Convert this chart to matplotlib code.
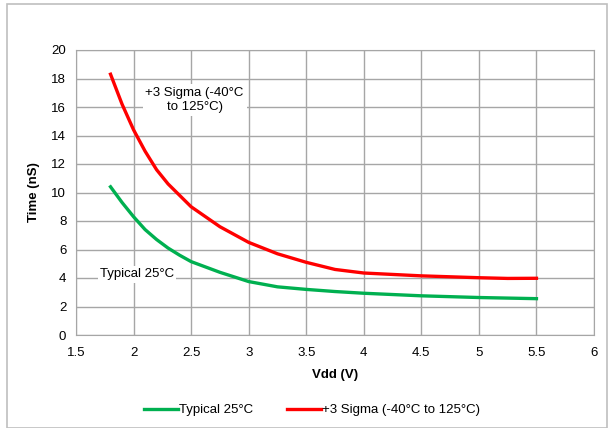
import matplotlib.pyplot as plt
from matplotlib.patches import Rectangle

plt.rcParams['font.family'] = ['Liberation Sans', 'DejaVu Sans']

vdd_typ = [1.8, 1.9, 2.0, 2.1, 2.2, 2.3, 2.4, 2.5, 2.75, 3.0, 3.25, 3.5, 3.75, 4.0, 4.5, 5.0, 5.5]
time_typ = [10.4, 9.3, 8.3, 7.4, 6.7, 6.1, 5.6, 5.15, 4.4, 3.75, 3.38, 3.2, 3.05, 2.93, 2.75, 2.63, 2.55]

vdd_sig = [1.8, 1.9, 2.0, 2.1, 2.2, 2.3, 2.4, 2.5, 2.75, 3.0, 3.25, 3.5, 3.75, 4.0, 4.5, 5.0, 5.25, 5.5]
time_sig = [18.3, 16.2, 14.4, 12.9, 11.6, 10.6, 9.8, 9.0, 7.6, 6.5, 5.7, 5.1, 4.6, 4.35, 4.15, 4.02, 3.97, 3.98]

fig = plt.figure(figsize=(6.1, 4.28), dpi=100)
ax = fig.add_axes([76/610, 1 - 335/428, (594-76)/610, (335-50)/428])

ax.plot(vdd_typ, time_typ, color='#00B050', lw=2.4, label='Typical 25°C',
        solid_joinstyle='round')
ax.plot(vdd_sig, time_sig, color='#FF0000', lw=2.4, label='+3 Sigma (-40°C to 125°C)',
        solid_joinstyle='round')

ax.set_xlim(1.5, 6)
ax.set_ylim(0, 20)
ax.set_xticks([1.5, 2, 2.5, 3, 3.5, 4, 4.5, 5, 5.5, 6])
ax.set_xticklabels(['1.5', '2', '2.5', '3', '3.5', '4', '4.5', '5', '5.5', '6'])
ax.set_yticks(range(0, 21, 2))
ax.grid(True, color='#a6a6a6', lw=1)
ax.set_axisbelow(True)
for s in ax.spines.values():
    s.set_color('#a6a6a6')
ax.tick_params(length=0, labelsize=9.5)
ax.tick_params(axis='x', pad=9)
ax.tick_params(axis='y', pad=7)
ax.set_xlabel('Vdd (V)', fontsize=9.5, fontweight='bold', labelpad=7)
ax.set_ylabel('Time (nS)', fontsize=9.5, fontweight='bold', labelpad=8)

ax.text(2.53, 16.5, '+3 Sigma (-40°C\nto 125°C)', ha='center', va='center', fontsize=9.5,
        bbox=dict(facecolor='white', edgecolor='none', pad=2))
ax.text(2.03, 4.25, 'Typical 25°C', ha='center', va='center', fontsize=9.5,
        bbox=dict(facecolor='white', edgecolor='none', pad=1.5))

fig.legend(loc='center', bbox_to_anchor=(312/610, 1 - 410/428), ncol=2, frameon=False,
           fontsize=9.5, handlelength=2.6, handletextpad=0.1, columnspacing=2.5)

fig.patches.append(Rectangle((7/610, 0), 600/610, 1 - 4/428, transform=fig.transFigure,
                             fill=False, edgecolor='#bfbfbf', lw=1.2))

fig.savefig('out.png')
